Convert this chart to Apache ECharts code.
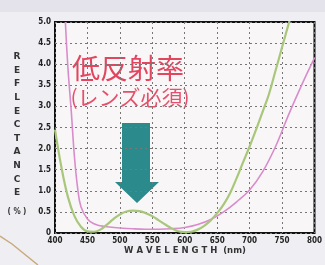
<!DOCTYPE html>
<html><head><meta charset="utf-8">
<script src="https://cdn.jsdelivr.net/npm/echarts@6/dist/echarts.min.js"></script>
<style>html,body{margin:0;padding:0;background:#efeef3;}#c{width:325px;height:265px;}</style>
</head><body><div id="c"></div>
<script>
var xTicks = [400,450,500,550,600,650,700,750,800];
var yTicks = [0,0.5,1.0,1.5,2.0,2.5,3.0,3.5,4.0,4.5,5.0];
var greenNm  = [400,410,420,430,440,450,460,470,480,490,500,510,520,530,540,550,560,570,580,590,600,610,620,630,640,650,660,670,680,690,700,710,720,730,740,750,760,762];
var greenVal = [2.45,1.55,0.85,0.40,0.15,0.04,0.03,0.08,0.20,0.33,0.44,0.51,0.53,0.52,0.47,0.40,0.30,0.20,0.11,0.04,0.02,0.03,0.08,0.17,0.30,0.47,0.68,0.95,1.30,1.68,2.05,2.45,2.87,3.30,3.85,4.40,4.95,5.05];
var pinkNm  = [416,420,425,430,435,440,450,460,470,480,500,520,540,560,580,600,620,640,660,680,700,720,740,760,780,800];
var pinkVal = [5.0,3.9,2.9,1.8,1.05,0.62,0.33,0.22,0.17,0.15,0.12,0.10,0.09,0.09,0.10,0.13,0.20,0.32,0.50,0.74,1.02,1.45,2.05,2.80,3.50,4.15];
var yName = ['R','E','F','L','E','C','T','A','N','C','E'];

function pairs(xs, ys){ return xs.map(function(x,i){return [x, ys[i]];}); }
var lblFont = "'Liberation Sans Narrow','DejaVu Sans Condensed',sans-serif";
var chart = echarts.init(document.getElementById('c'));
chart.setOption({
  backgroundColor: '#efeef3',
  animation: false,
  grid: {left:55, top:22, right:5, bottom:32, show:true, backgroundColor:'#f8f6f7', borderColor:'#111', borderWidth:2},
  xAxis: {type:'value', min:400, max:800, interval:50,
    axisLine:{show:false}, axisTick:{show:false},
    splitLine:{show:true, lineStyle:{color:'#777', type:[2,3], width:1}},
    axisLabel:{margin:4, fontSize:8, fontWeight:'bold', color:'#222', fontFamily:lblFont,
      formatter:function(v){return xTicks.indexOf(v)>=0? String(v):'';}}},
  yAxis: {type:'value', min:0, max:5, interval:0.5,
    axisLine:{show:false}, axisTick:{show:false},
    splitLine:{show:true, lineStyle:{color:'#777', type:[2,3], width:1}},
    axisLabel:{margin:4, fontSize:8, fontWeight:'bold', color:'#222', fontFamily:lblFont,
      formatter:function(v){return v===0?'0':v.toFixed(1);}}},
  series: [
    {type:'line', data:pairs(pinkNm,pinkVal), smooth:0.4, symbol:'none', clip:true,
      lineStyle:{color:'#d98ccc', width:1.6}},
    {type:'line', data:pairs(greenNm,greenVal), smooth:0.4, symbol:'none', clip:true,
      lineStyle:{color:'#a9c77a', width:2.2}}
  ],
  graphic: [
    {type:'rect', left:0, top:0, shape:{width:325, height:12}, style:{fill:'#e4e2eb'}, z:-1},
    {type:'polyline', shape:{points:[[0,236],[12,244],[38,265]]}, style:{stroke:'#c9aa7c', lineWidth:1.5, fill:null}},
    {type:'text', x:17, y:50, style:{text:yName.join('\n'), lineHeight:13.6, fontSize:9, fontWeight:'bold', fill:'#333', align:'center', fontFamily:'DejaVu Sans'}},
    {type:'text', x:17, y:208, style:{text:'( % )', fontSize:8, fontWeight:'bold', fill:'#333', align:'center', fontFamily:lblFont}},
    {type:'text', x:185, y:246, style:{text:'W A V E L E N G T H  (nm)', fontSize:8.5, fontWeight:'bold', fill:'#333', align:'center', fontFamily:'DejaVu Sans'}},
    {type:'text', x:128, y:54, style:{text:'低反射率', fontSize:28, fill:'#e3455f', align:'center', fontFamily:'Noto Sans CJK JP'}},
    {type:'text', x:130, y:87, style:{text:'(レンズ必須)', fontSize:21, fill:'#e6506a', align:'center', fontFamily:'Noto Sans CJK JP'}},
    {type:'polygon', shape:{points:[[122,123],[150,123],[150,182],[159,182],[137,203],[115,182],[122,182]]}, style:{fill:'#2a8a8c'}}
  ]
});
</script></body></html>
